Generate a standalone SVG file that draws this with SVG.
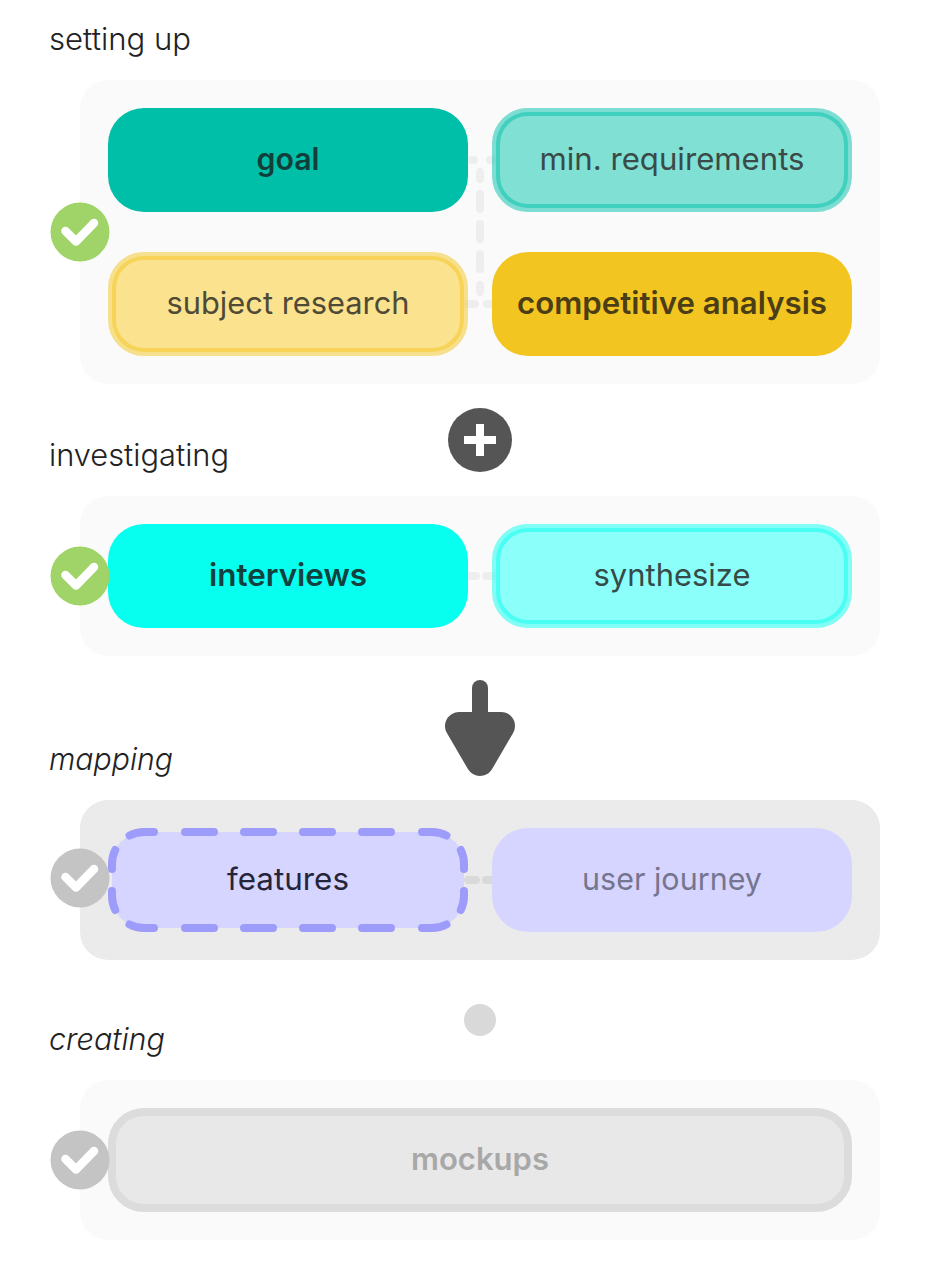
<svg xmlns="http://www.w3.org/2000/svg" width="928" height="1280" viewBox="0 0 928 1280">
<defs>
<style>
text{font-family:"Inter","Roboto","Liberation Sans",sans-serif;}
.lab{font-size:31px;font-weight:300;fill:#222;}
.it{font-style:italic;}
.t{font-size:31px;font-weight:400;text-anchor:middle;}
.b{font-size:31px;font-weight:600;text-anchor:middle;}
.grp{fill:#fafafa;}
.conn{fill:none;stroke:#eeeeee;stroke-width:8;stroke-linecap:round;}
.chk{fill:none;stroke:#fff;stroke-width:8.500;stroke-linecap:round;stroke-linejoin:round;}
</style>
<path id="c" class="chk" d="M-14.500 -1L-4 9.500L14 -9"/>
</defs>
<rect width="928" height="1280" fill="#fff"/>
<g id="labels">
<text class="lab" x="49" y="50" textLength="142" lengthAdjust="spacingAndGlyphs">setting up</text>
<text class="lab" x="49" y="466" textLength="180" lengthAdjust="spacingAndGlyphs">investigating</text>
<text class="lab it" x="49" y="770" textLength="124" lengthAdjust="spacingAndGlyphs">mapping</text>
<text class="lab it" x="49" y="1050" textLength="116" lengthAdjust="spacingAndGlyphs">creating</text>
</g>
<g id="groups">
<rect class="grp" x="80" y="80" width="800" height="304" rx="28"/>
<rect class="grp" x="80" y="496" width="800" height="160" rx="28"/>
<rect x="80" y="800" width="800" height="160" rx="28" fill="#ebebeb"/>
<rect class="grp" x="80" y="1080" width="800" height="160" rx="28"/>
</g>
<g id="connectors">
<path class="conn" d="M472 160H474M490 160H492M480 172V179M480 194V209M480 224V239M480 254V269M480 285V292M468 304H475M487 304H492"/>
<path class="conn" d="M468 576H476M486 576H492"/>
<path class="conn" style="stroke:#d9d9d9" d="M468 880H476M486 880H492"/>
</g>
<g id="goal">
<rect x="108" y="108" width="360" height="104" rx="36" fill="#00bfa9"/>
<text class="b" x="288" y="170" fill="#103f3b" textLength="63" lengthAdjust="spacingAndGlyphs">goal</text>
</g>
<g id="min-requirements">
<rect x="496" y="112" width="352" height="96" rx="32" fill="#80e0d3" stroke="#00bfa9" stroke-opacity=".5" stroke-width="8"/>
<text class="t" x="672" y="170" fill="#394a48" textLength="265" lengthAdjust="spacingAndGlyphs">min. requirements</text>
</g>
<g id="subject-research">
<rect x="112" y="256" width="352" height="96" rx="32" fill="#fae28e" stroke="#f4c61f" stroke-opacity=".5" stroke-width="8"/>
<text class="t" x="288" y="314" fill="#4f4a36" textLength="243" lengthAdjust="spacingAndGlyphs">subject research</text>
</g>
<g id="competitive-analysis">
<rect x="492" y="252" width="360" height="104" rx="36" fill="#f3c520"/>
<text class="b" x="672" y="314" fill="#4b3e17" textLength="310" lengthAdjust="spacingAndGlyphs">competitive analysis</text>
</g>
<g id="interviews">
<rect x="108" y="524" width="360" height="104" rx="36" fill="#07fff0"/>
<text class="b" x="288" y="586" fill="#10413f" textLength="158" lengthAdjust="spacingAndGlyphs">interviews</text>
</g>
<g id="synthesize">
<rect x="496" y="528" width="352" height="96" rx="32" fill="#8bfff9" stroke="#07fff0" stroke-opacity=".5" stroke-width="8"/>
<text class="t" x="672" y="586" fill="#364a49" textLength="157" lengthAdjust="spacingAndGlyphs">synthesize</text>
</g>
<g id="features">
<rect x="112" y="832" width="352" height="96" rx="32" fill="#d6d5ff"/>
<path fill="none" stroke="#9e9cfb" stroke-width="8" stroke-linecap="round" d="M129.500 835.500A32 32 0 0 1 144 832H154M185 832H214M244 832H273M303 832H332M362 832H391M422 832H432A32 32 0 0 1 446.500 835.500M129.500 924.500A32 32 0 0 0 144 928H154M185 928H214M244 928H273M303 928H332M362 928H391M422 928H432A32 32 0 0 0 446.500 924.500M115.200 850A32 32 0 0 0 112 864V869M115.200 910A32 32 0 0 1 112 896V891M460.800 850A32 32 0 0 1 464 864V869M460.800 910A32 32 0 0 0 464 896V891"/>
<text class="t" x="288" y="890" fill="#25243a" textLength="122" lengthAdjust="spacingAndGlyphs">features</text>
</g>
<g id="user-journey">
<rect x="492" y="828" width="360" height="104" rx="36" fill="#d6d5ff"/>
<text class="t" x="672" y="890" fill="#76758f" textLength="180" lengthAdjust="spacingAndGlyphs">user journey</text>
</g>
<g id="mockups">
<rect x="112" y="1112" width="736" height="96" rx="32" fill="#e8e8e8" stroke="#dcdcdc" stroke-width="8"/>
<text class="b" x="480" y="1170" fill="#a8a8a8" textLength="138" lengthAdjust="spacingAndGlyphs">mockups</text>
</g>
<g id="check-setting-up"><circle cx="80" cy="232" r="29.500" fill="#a0d468"/><use href="#c" x="80" y="232"/></g>
<g id="check-investigating"><circle cx="80" cy="576" r="29.500" fill="#a0d468"/><use href="#c" x="80" y="576"/></g>
<g id="check-mapping"><circle cx="80" cy="878" r="29.500" fill="#c4c4c4"/><use href="#c" x="80" y="878"/></g>
<g id="check-creating"><circle cx="80" cy="1160" r="29.500" fill="#c4c4c4"/><use href="#c" x="80" y="1160"/></g>
<g id="plus">
<circle cx="480" cy="440" r="32" fill="#555"/>
<path fill="#fff" d="M476 424H484V436H496V444H484V456H476V444H464V436H476Z"/>
</g>
<g id="arrow">
<rect x="472" y="680" width="16" height="50" rx="8" fill="#555"/>
<path d="M459 726H501L480 762Z" fill="#555" stroke="#555" stroke-width="28" stroke-linejoin="round"/>
</g>
<g id="dot"><circle cx="480" cy="1020" r="16" fill="#d9d9d9"/></g>
</svg>
